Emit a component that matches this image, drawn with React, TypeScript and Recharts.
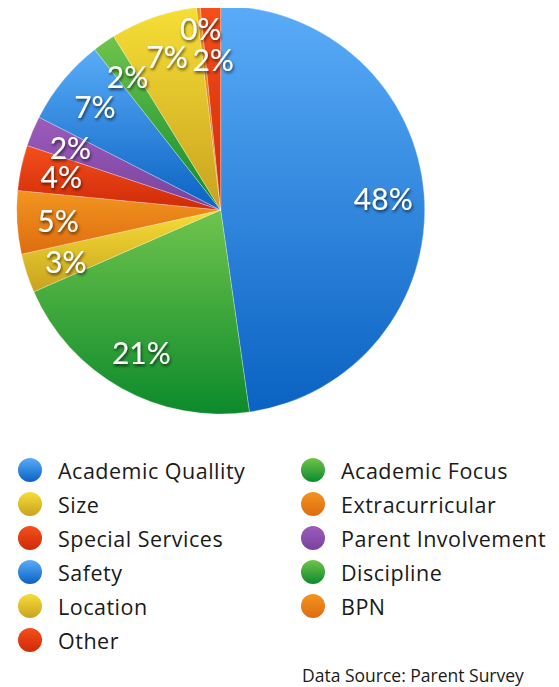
import { PieChart, Pie, Cell, Legend } from "recharts";

const categories = [
  "Academic Quallity",
  "Academic Focus",
  "Size",
  "Extracurricular",
  "Special Services",
  "Parent Involvement",
  "Safety",
  "Discipline",
  "Location",
  "BPN",
  "Other",
];
const shares = [47.8, 20.7, 3.1, 5.0, 3.6, 2.4, 6.9, 1.8, 6.9, 0.3, 1.6];

const palette: Record<string, [string, string]> = {
  blue: ["#5aacf8", "#0a62c2"],
  green: ["#70c44c", "#0c8a2c"],
  yellow: ["#f6de36", "#c9a21f"],
  orange: ["#f2951e", "#de6c10"],
  red: ["#f44f1b", "#cf2a08"],
  purple: ["#9c5cba", "#7842a0"],
};
const sliceColors = [
  "blue", "green", "yellow", "orange", "red", "purple",
  "blue", "green", "yellow", "orange", "red",
];

const data = categories.map((name, i) => ({ name, value: shares[i] }));

const LABEL_FONT = "Lato, 'Open Sans', sans-serif";
const TEXT_FONT = "'Open Sans', 'Noto Sans', sans-serif";
const RAD = Math.PI / 180;

// nudge a couple of crowded labels near the top
const labelRadius: Record<string, number> = { BPN: 183, Other: 151 };

function renderLabel(props: any) {
  const { cx, cy, midAngle, percent, name } = props;
  const r = labelRadius[name] ?? 163;
  const x = cx + r * Math.cos(-midAngle * RAD);
  const y = cy + r * Math.sin(-midAngle * RAD);
  return (
    <text
      x={x}
      y={y}
      fill="#ffffff"
      textAnchor="middle"
      dominantBaseline="central"
      fontFamily={LABEL_FONT}
      fontSize={30}
      fontWeight={400}
      filter="url(#labelShadow)"
    >
      {`${Math.round(percent * 100)}%`}
    </text>
  );
}

function LegendBox() {
  return (
    <div
      style={{
        display: "grid",
        gridTemplateColumns: "283px 260px",
        fontFamily: TEXT_FONT,
        fontSize: 21.5,
        letterSpacing: 0.5,
        color: "#1a1a1a",
      }}
    >
      {data.map((d, i) => {
        const [top, bottom] = palette[sliceColors[i]];
        return (
          <div
            key={d.name}
            style={{ display: "flex", alignItems: "center", height: 34, paddingLeft: 10 }}
          >
            <span
              style={{
                width: 24,
                height: 24,
                borderRadius: 12,
                background: `linear-gradient(${top}, ${bottom})`,
                marginRight: 16,
                flex: "none",
              }}
            />
            <span style={{ whiteSpace: "nowrap" }}>{d.name}</span>
          </div>
        );
      })}
    </div>
  );
}

export default function App() {
  return (
    <div style={{ position: "relative", width: 543, height: 679 }}>
      <PieChart width={543} height={679} margin={{ top: 0, right: 0, bottom: 0, left: 0 }}>
        <defs>
          {data.map((d, i) => {
            const [top, bottom] = palette[sliceColors[i]];
            return (
              <linearGradient key={d.name} id={`grad-${i}`} x1="0" y1="0" x2="0" y2="1">
                <stop offset="0%" stopColor={top} />
                <stop offset="100%" stopColor={bottom} />
              </linearGradient>
            );
          })}
          <filter id="labelShadow" x="-20%" y="-20%" width="140%" height="150%">
            <feDropShadow dx="1" dy="2" stdDeviation="1.5" floodColor="#000" floodOpacity="0.65" />
          </filter>
        </defs>
        <Pie
          data={data}
          dataKey="value"
          nameKey="name"
          cx={212.7}
          cy={202}
          outerRadius={204}
          startAngle={90}
          endAngle={-270}
          stroke="rgba(255,255,255,0.45)"
          strokeWidth={0.6}
          label={renderLabel}
          labelLine={false}
          isAnimationActive={false}
        >
          {data.map((d, i) => (
            <Cell key={d.name} fill={`url(#grad-${i})`} />
          ))}
        </Pie>
        <Legend
          content={<LegendBox />}
          wrapperStyle={{ position: "absolute", top: 445, left: 0, width: 543 }}
        />
      </PieChart>
      <div
        style={{
          position: "absolute",
          left: 294,
          top: 655,
          fontFamily: TEXT_FONT,
          fontSize: 17.5,
          color: "#1a1a1a",
          whiteSpace: "nowrap",
        }}
      >
        Data Source: Parent Survey
      </div>
    </div>
  );
}
